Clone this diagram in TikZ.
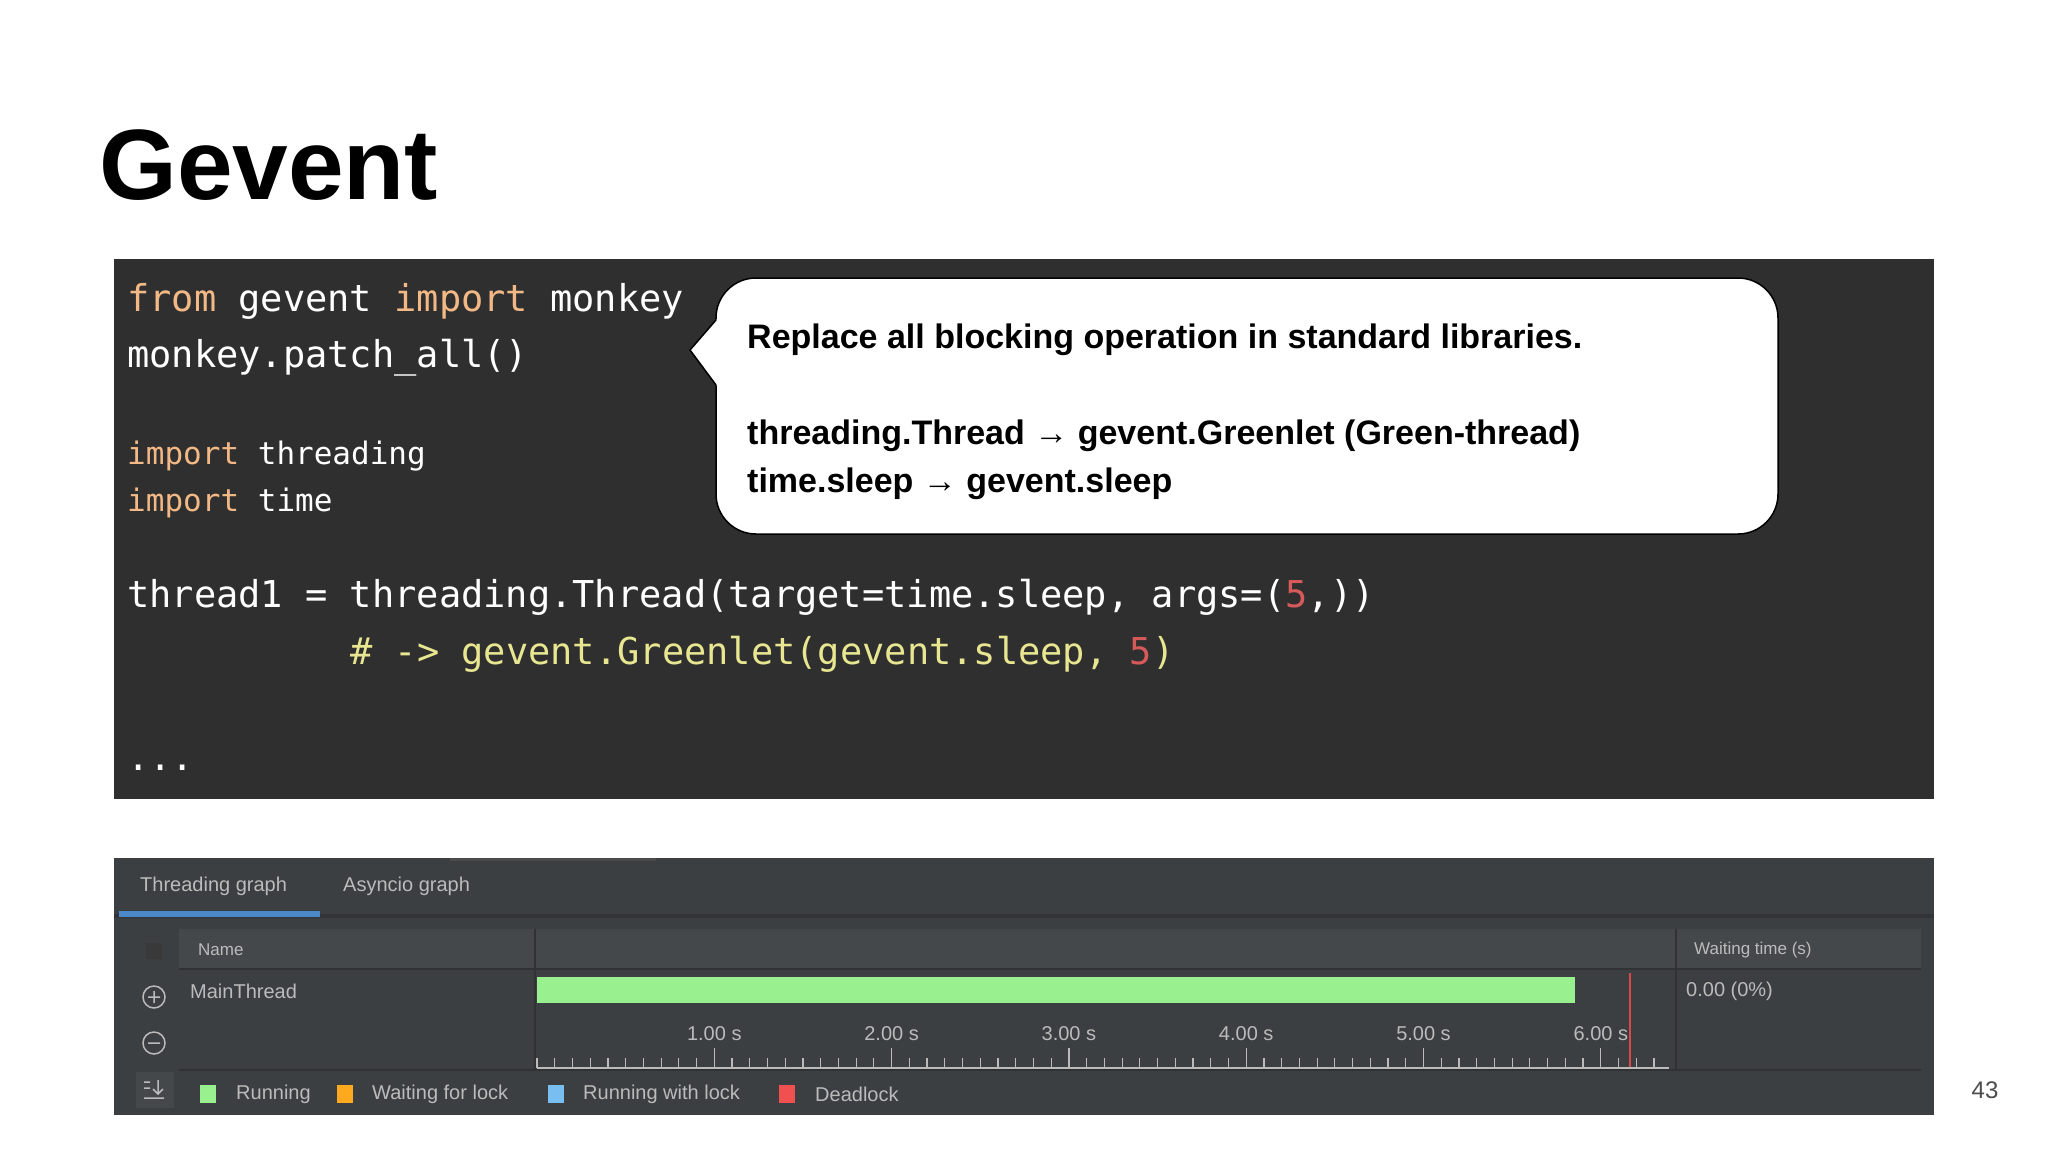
\documentclass[tikz,border=0pt]{standalone}
\usepackage{fontspec}
\setmainfont{Liberation Sans}
\newfontfamily\codef{DejaVu Sans Mono}
\newfontfamily\uif{Liberation Sans}
\definecolor{codebg}{HTML}{2F2F2F}
\definecolor{kw}{HTML}{F2B885}
\definecolor{cm}{HTML}{E8E690}
\definecolor{num}{HTML}{D75A5A}
\definecolor{panel}{HTML}{3C3F41}
\definecolor{hdr}{HTML}{45484A}
\definecolor{uitext}{HTML}{BBBBBB}
\definecolor{grn}{HTML}{98F08E}
\begin{document}
\begin{tikzpicture}[x=1pt,y=-1pt,
  code/.style={anchor=base west,inner sep=0pt,text=white,font=\codef\fontsize{37}{40}\selectfont},
  codesm/.style={code,font=\codef\fontsize{31}{34}\selectfont},
  callt/.style={anchor=base west,inner sep=0pt,font=\bfseries\fontsize{34}{38}\selectfont},
  ui/.style={inner sep=0pt,text=uitext,font=\uif\fontsize{20}{22}\selectfont},
  uism/.style={ui,font=\uif\fontsize{17}{20}\selectfont},
  tick/.style={draw=uitext,line width=1.2pt}]
\useasboundingbox (0,0) rectangle (2048,1152);
\fill[white] (0,0) rectangle (2048,1152);
% title
\node[anchor=base west,inner sep=0pt,font=\bfseries\fontsize{100}{110}\selectfont] (title) at (99,199) {Gevent};
% code panel
\fill[codebg] (114,259) rectangle (1934,799);
\node[code] (l1) at (127,311) {\textcolor{kw}{from} gevent \textcolor{kw}{import} monkey};
\node[code] (l2) at (127,367) {monkey.patch\_all()};
\node[codesm] (l3) at (127,464) {\textcolor{kw}{import} threading};
\node[codesm] (l4) at (127,511) {\textcolor{kw}{import} time};
\node[code] (l5) at (127,607) {thread1 = threading.Thread(target=time.sleep, args=(\textcolor{num}{5},))};
\node[code,text=cm] (l6) at (350,664) {\# -> gevent.Greenlet(gevent.sleep, \textcolor{num}{5})};
\node[code] (l7) at (127,770) {...};
% callout
\draw[black,line width=1.5pt,fill=white,rounded corners=40pt]
  (716,320) -- (716,278) -- (1778,278) -- (1778,534) -- (716,534) -- (716,385);
\fill[white] (718,318) -- (690,350) -- (718,387) -- cycle;
\draw[black,line width=1.5pt,line join=round] (716,320) -- (690,350) -- (716,385);
\node[callt] (c1) at (747,348) {Replace all blocking operation in standard libraries.};
\node[callt] (c2) at (747,444) {threading.Thread → gevent.Greenlet (Green-thread)};
\node[callt] (c3) at (747,492) {time.sleep → gevent.sleep};
% bottom panel
\fill[panel] (114,858) rectangle (1934,1115);
\fill[gray!60!black] (450,858) rectangle (656,861);
\fill[color={rgb,255:red,50;green,52;blue,54}] (114,914) rectangle (1934,918);
\fill[color={rgb,255:red,75;green,136;blue,200}] (119,911) rectangle (320,917);
\node[ui,anchor=west] (tab1) at (140,886) {Threading graph};
\node[ui,anchor=west] (tab2) at (343,886) {Asyncio graph};
% table
\fill[hdr] (179,929) rectangle (1921,969);
\draw[color={rgb,255:red,48;green,50;blue,52},line width=2pt] (535,929) -- (535,1070) (1676,929) -- (1676,1070) (179,969) -- (1921,969) (179,1070) -- (1921,1070);
\node[uism,anchor=west] (hname) at (198,950) {Name};
\node[uism,anchor=west] (hwait) at (1694,950) {Waiting time (s)};
\node[ui,anchor=west] (mt) at (190,991) {MainThread};
\node[ui,anchor=west] (wt) at (1686,991) {0.00 (0\%)};
\fill[grn] (537,977) rectangle (1575,1003);
\draw[color={rgb,255:red,220;green,70;blue,70},line width=1.5pt] (1630,973) -- (1630,1068);
\draw[tick] (537,1068) -- (1669,1068);
\foreach \i in {0,...,63}{\draw[tick] ({537+\i*17.73},1068) -- ({537+\i*17.73},1058);}
\foreach \s in {1,...,6}{\draw[tick] ({537+\s*177.3},1068) -- ({537+\s*177.3},1048);
  \node[ui,anchor=base] at ({537+\s*177.3},1040) {\s.00 s};}
% left icons
\fill[gray!45!black] (146,943) rectangle (162,959);
\draw[uitext,line width=1.5pt] (154,997) circle (11) (148,997) -- (160,997) (154,991) -- (154,1003);
\draw[uitext,line width=1.5pt] (154,1043) circle (11) (148,1043) -- (160,1043);
\fill[hdr] (136,1072) rectangle (174,1108);
\draw[uitext,line width=1.5pt] (144,1098) -- (164,1098) (158,1080) -- (158,1094) (153,1089) -- (158,1094) -- (163,1089) (144,1082) -- (150,1082) (144,1088) -- (150,1088);
% legend
\fill[color={rgb,255:red,152;green,240;blue,142}] (200,1085) rectangle (216,1103);
\node[ui,anchor=west] (lg1) at (236,1094) {Running};
\fill[color={rgb,255:red,255;green,170;blue,30}] (337,1085) rectangle (353,1103);
\node[ui,anchor=west] (lg2) at (372,1094) {Waiting for lock};
\fill[color={rgb,255:red,120;green,190;blue,240}] (548,1085) rectangle (564,1103);
\node[ui,anchor=west] (lg3) at (583,1094) {Running with lock};
\fill[color={rgb,255:red,240;green,80;blue,80}] (779,1085) rectangle (795,1103);
\node[ui,anchor=west] (lg4) at (815,1094) {Deadlock};
% page number
\node[inner sep=0pt,text=gray!60!black,font=\fontsize{24}{26}\selectfont] (pg) at (1985,1090) {43};
\end{tikzpicture}
\end{document}
